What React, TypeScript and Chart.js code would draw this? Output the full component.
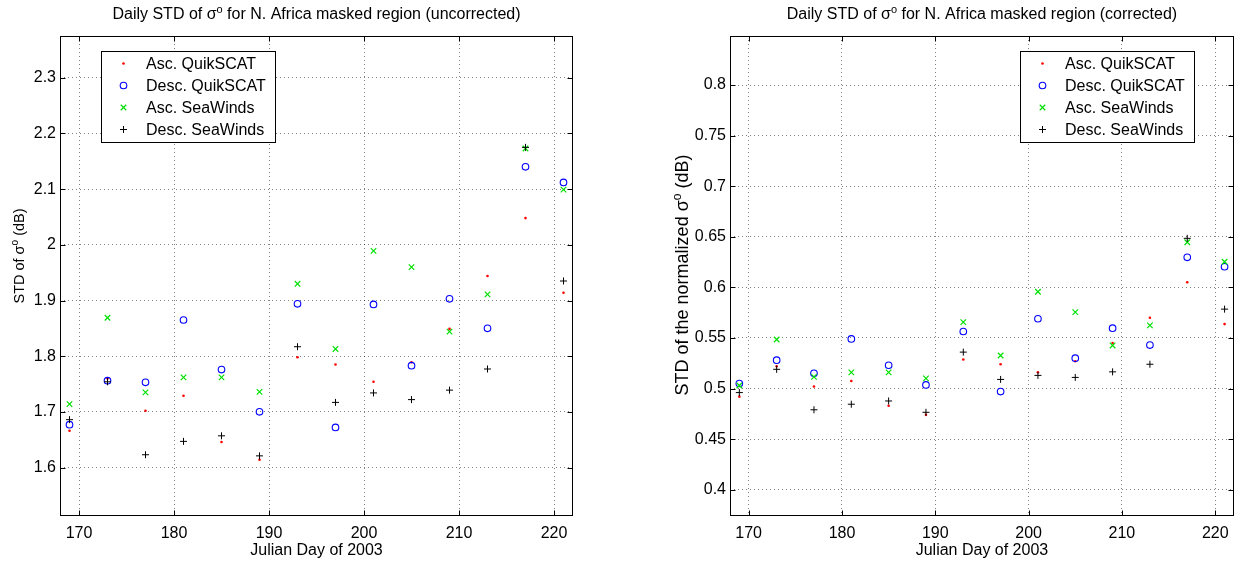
import React, { useEffect, useRef } from "react";
import { Chart, registerables } from "chart.js";

Chart.register(...registerables);

const FAMILY = '"Liberation Sans", Arial, Helvetica, sans-serif';

// ---- data ----
const days = [169, 173, 177, 181, 185, 189, 193, 197, 201, 205, 209, 213, 217, 221];
const xTicks = [170, 180, 190, 200, 210, 220];

const seriesLabels = ["Asc. QuikSCAT", "Desc. QuikSCAT", "Asc. SeaWinds", "Desc. SeaWinds"];

// uncorrected
const uncAscQuik = [1.666, 1.760, 1.702, 1.729, 1.646, 1.614, 1.798, 1.785, 1.754, 1.789, 1.849, 1.944, 2.048, 1.914];
const uncDescQuik = [1.677, 1.756, 1.753, 1.865, 1.776, 1.700, 1.894, 1.672, 1.893, 1.783, 1.903, 1.850, 2.140, 2.112];
const uncAscSea = [1.714, 1.869, 1.735, 1.762, 1.762, 1.736, 1.930, 1.813, 1.989, 1.960, 1.844, 1.911, 2.173, 2.099];
const uncDescSea = [1.686, 1.754, 1.623, 1.647, 1.657, 1.621, 1.817, 1.717, 1.734, 1.722, 1.739, 1.777, 2.175, 1.935];
const uncYTicks = [1.6, 1.7, 1.8, 1.9, 2.0, 2.1, 2.2, 2.3];

// corrected
const corAscQuik = [0.492, 0.522, 0.502, 0.5075, 0.483, 0.474, 0.5287, 0.524, 0.516, 0.527, 0.545, 0.570, 0.605, 0.5637];
const corDescQuik = [0.505, 0.528, 0.515, 0.549, 0.523, 0.5036, 0.5564, 0.497, 0.569, 0.530, 0.5597, 0.543, 0.6297, 0.6204];
const corAscSea = [0.503, 0.5485, 0.5115, 0.516, 0.516, 0.510, 0.5656, 0.5327, 0.5957, 0.5755, 0.5426, 0.5624, 0.6446, 0.6253];
const corDescSea = [0.496, 0.519, 0.479, 0.4845, 0.4877, 0.4765, 0.536, 0.509, 0.513, 0.511, 0.5165, 0.524, 0.6485, 0.5785];
const corYTicks = [0.4, 0.45, 0.5, 0.55, 0.6, 0.65, 0.7, 0.75, 0.8];

type Rich = { t: string; sup?: boolean }[];

const STYLES = [
  { pointStyle: "circle", radius: 1.3, fill: "#ff0000", stroke: "#ff0000", lw: 0 },
  { pointStyle: "circle", radius: 3.3, fill: "rgba(0,0,0,0)", stroke: "#0000ff", lw: 1.1 },
  { pointStyle: "crossRot", radius: 3.9, fill: "rgba(0,0,0,0)", stroke: "#00e000", lw: 1.2 },
  { pointStyle: "cross", radius: 3.5, fill: "rgba(0,0,0,0)", stroke: "#000000", lw: 1 },
];

function drawRich(ctx: CanvasRenderingContext2D, parts: Rich, x: number, y: number, base = 16) {
  const sup = Math.round(base * 0.68);
  let total = 0;
  const ws = parts.map((p) => {
    ctx.font = `${p.sup ? sup : base}px ${FAMILY}`;
    const w = ctx.measureText(p.t).width;
    total += w;
    return w;
  });
  let cx = x - total / 2;
  ctx.textAlign = "left";
  ctx.textBaseline = "alphabetic";
  parts.forEach((p, i) => {
    ctx.font = `${p.sup ? sup : base}px ${FAMILY}`;
    ctx.fillText(p.t, cx, p.sup ? y - base * 0.4 : y);
    cx += ws[i];
  });
}

function drawMarker(ctx: CanvasRenderingContext2D, s: any, x: number, y: number) {
  ctx.save();
  ctx.fillStyle = s.fill;
  ctx.strokeStyle = s.stroke;
  ctx.lineWidth = s.lw;
  ctx.beginPath();
  if (s.pointStyle === "circle") {
    ctx.arc(x, y, s.radius, 0, Math.PI * 2);
    ctx.closePath();
    ctx.fill();
    if (s.lw > 0) ctx.stroke();
  } else if (s.pointStyle === "cross") {
    ctx.moveTo(x - s.radius, y);
    ctx.lineTo(x + s.radius, y);
    ctx.moveTo(x, y - s.radius);
    ctx.lineTo(x, y + s.radius);
    ctx.stroke();
  } else {
    const o = s.radius * Math.SQRT1_2;
    ctx.moveTo(x - o, y - o);
    ctx.lineTo(x + o, y + o);
    ctx.moveTo(x + o, y - o);
    ctx.lineTo(x - o, y + o);
    ctx.stroke();
  }
  ctx.restore();
}

function decorPlugin(
  title: Rich,
  ylabel: Rich,
  ylabelX: number,
  ylabelY: number,
  ylabelSize: number,
  legendSide: "left" | "right"
) {
  return {
    id: "matlabDecor",
    afterDraw(chart: any) {
      const { ctx, chartArea: a, scales } = chart;
      ctx.save();
      // axes box
      ctx.strokeStyle = "#000";
      ctx.lineWidth = 1;
      const L = Math.round(a.left) + 0.5;
      const T = Math.round(a.top) + 0.5;
      const R = Math.round(a.right) - 0.5;
      const B = Math.round(a.bottom) - 0.5;
      ctx.strokeRect(L, T, R - L, B - T);
      // inward ticks
      const TL = 5;
      ctx.beginPath();
      scales.x.ticks.forEach((t: any) => {
        const px = Math.round(scales.x.getPixelForValue(t.value)) + 0.5;
        ctx.moveTo(px, B);
        ctx.lineTo(px, B - TL);
        ctx.moveTo(px, T);
        ctx.lineTo(px, T + TL);
      });
      scales.y.ticks.forEach((t: any) => {
        const py = Math.round(scales.y.getPixelForValue(t.value)) + 0.5;
        ctx.moveTo(L, py);
        ctx.lineTo(L + TL, py);
        ctx.moveTo(R, py);
        ctx.lineTo(R - TL, py);
      });
      ctx.stroke();

      ctx.fillStyle = "#000";
      // title
      drawRich(ctx, title, (a.left + a.right) / 2, 19);
      // x label
      drawRich(ctx, [{ t: "Julian Day of 2003" }], (a.left + a.right) / 2, 555);
      // y label
      ctx.save();
      ctx.translate(ylabelX, ylabelY);
      ctx.rotate(-Math.PI / 2);
      drawRich(ctx, ylabel, 0, ylabelSize * 0.36, ylabelSize);
      ctx.restore();

      // legend
      ctx.font = `16px ${FAMILY}`;
      const ds = chart.data.datasets;
      let maxW = 0;
      ds.forEach((d: any) => {
        maxW = Math.max(maxW, ctx.measureText(d.label).width);
      });
      const bw = Math.round(45 + maxW + 9);
      const bh = 91;
      const bx = legendSide === "left" ? Math.round(a.left) + 41 : Math.round(a.right) - 40 - bw;
      const by = 51;
      ctx.fillStyle = "#fff";
      ctx.fillRect(bx, by, bw, bh);
      ctx.strokeStyle = "#000";
      ctx.lineWidth = 1;
      ctx.strokeRect(bx + 0.5, by + 0.5, bw, bh);
      const rows = [63.5, 85.5, 107.5, 129.5];
      ds.forEach((d: any, i: number) => {
        drawMarker(ctx, STYLES[i], bx + 22.5, rows[i]);
        ctx.fillStyle = "#000";
        ctx.font = `16px ${FAMILY}`;
        ctx.textAlign = "left";
        ctx.textBaseline = "middle";
        ctx.fillText(d.label, bx + 45, rows[i] + 1);
      });
      ctx.restore();
    },
  };
}

function buildConfig(
  series: number[][],
  yMin: number,
  yMax: number,
  yTicks: number[],
  yWidth: number,
  padRight: number,
  plugin: any
) {
  const fmt = (v: any) => String(+Number(v).toFixed(3));
  const gridColor = "rgba(0,0,0,0.5)";
  return {
    type: "scatter" as const,
    data: {
      datasets: series.map((vals, i) => ({
        label: seriesLabels[i],
        data: days.map((d, j) => ({ x: d, y: vals[j] })),
        pointStyle: STYLES[i].pointStyle,
        pointRadius: STYLES[i].radius,
        pointHoverRadius: STYLES[i].radius,
        backgroundColor: STYLES[i].fill,
        borderColor: STYLES[i].stroke,
        borderWidth: STYLES[i].lw,
        order: 4 - i,
      })),
    },
    options: {
      responsive: false,
      animation: false,
      events: [],
      layout: { padding: { left: 0, top: 36, right: padRight, bottom: 0 } },
      plugins: { legend: { display: false }, tooltip: { enabled: false }, title: { display: false } },
      scales: {
        x: {
          type: "linear",
          min: 168,
          max: 222,
          afterBuildTicks: (s: any) => {
            s.ticks = xTicks.map((v) => ({ value: v }));
          },
          afterFit: (s: any) => {
            s.height = 49;
          },
          grid: { color: gridColor, drawTicks: false, lineWidth: 1 },
          border: { display: false, dash: [1, 3] },
          ticks: {
            color: "#000",
            font: { family: FAMILY, size: 16 },
            padding: 8,
            maxRotation: 0,
            autoSkip: false,
            callback: fmt,
          },
        },
        y: {
          type: "linear",
          min: yMin,
          max: yMax,
          afterBuildTicks: (s: any) => {
            s.ticks = yTicks.map((v) => ({ value: v }));
          },
          afterFit: (s: any) => {
            s.width = yWidth;
          },
          grid: { color: gridColor, drawTicks: false, lineWidth: 1 },
          border: { display: false, dash: [1, 3] },
          ticks: {
            color: "#000",
            font: { family: FAMILY, size: 16 },
            padding: 4,
            autoSkip: false,
            callback: fmt,
          },
        },
      },
    },
    plugins: [plugin],
  };
}

function Panel(props: { left: number; width: number; make: () => any }) {
  const ref = useRef<HTMLCanvasElement | null>(null);
  useEffect(() => {
    if (!ref.current) return;
    const chart = new Chart(ref.current, props.make());
    return () => chart.destroy();
  }, []);
  return (
    <canvas
      ref={ref}
      width={props.width}
      height={565}
      style={{ position: "absolute", left: props.left, top: 0, width: props.width, height: 565 }}
    />
  );
}

export default function App() {
  const makeLeft = () =>
    buildConfig(
      [uncAscQuik, uncDescQuik, uncAscSea, uncDescSea],
      1.513,
      2.375,
      uncYTicks,
      60,
      47,
      decorPlugin(
        [{ t: "Daily STD of σ" }, { t: "o", sup: true }, { t: " for N. Africa masked region (uncorrected)" }],
        [{ t: "STD of σ" }, { t: "o", sup: true }, { t: " (dB)" }],
        19,
        256,
        14.5,
        "left"
      )
    );
  const makeRight = () =>
    buildConfig(
      [corAscQuik, corDescQuik, corAscSea, corDescSea],
      0.374,
      0.8485,
      corYTicks,
      110,
      4,
      decorPlugin(
        [{ t: "Daily STD of σ" }, { t: "o", sup: true }, { t: " for N. Africa masked region (corrected)" }],
        [{ t: "STD of the normalized σ" }, { t: "o", sup: true }, { t: " (dB)" }],
        61.5,
        275,
        18,
        "right"
      )
    );
  return (
    <div style={{ position: "absolute", left: 0, top: 0, width: 1239, height: 565, background: "#fff", overflow: "hidden" }}>
      <Panel left={0} width={620} make={makeLeft} />
      <Panel left={620} width={619} make={makeRight} />
    </div>
  );
}
